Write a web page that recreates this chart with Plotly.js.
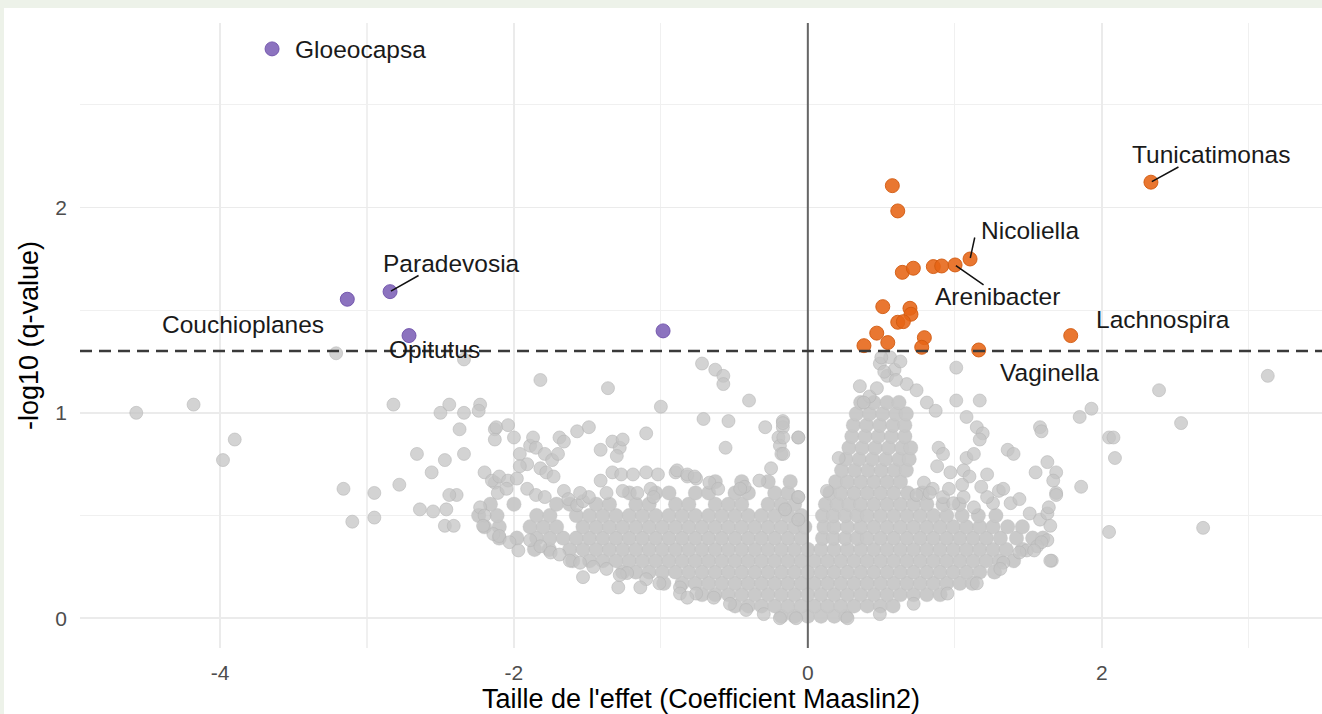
<!DOCTYPE html>
<html>
<head>
<meta charset="utf-8">
<script src="https://cdn.plot.ly/plotly-3.0.1.min.js"></script>
<style>
  html, body { margin: 0; padding: 0; background: #edf2e9; width: 1322px; height: 714px; overflow: hidden; }
  #chart { position: absolute; left: 4px; top: 8px; width: 1318px; height: 706px; background: #ffffff; }
</style>
</head>
<body>
<div id="chart"></div>
<script>
// ---------------- DATA ----------------
const xTickVals = [-4, -2, 0, 2];
const xTickText = ["-4", "-2", "0", "2"];
const yTickVals = [0, 1, 2];
const yTickText = ["0", "1", "2"];
const qThreshold = 0.05;

// significant, negative effect (purple)
const downNames = ["Gloeocapsa", "Paradevosia", "Couchioplanes", "Opitutus", ""];
const downX = [-3.646, -2.843, -3.134, -2.714, -0.985];
const downY = [2.772, 1.590, 1.553, 1.376, 1.399];

// significant, positive effect (orange)
const upNames = ["", "", "", "", "", "", "Arenibacter", "Nicoliella", "", "", "", "", "", "", "", "", "", "", "Vaginella", "Lachnospira", "Tunicatimonas"];
const upX = [0.575, 0.612, 0.643, 0.718, 0.854, 0.911, 1.002, 1.104, 0.510, 0.695, 0.702, 0.612, 0.650, 0.469, 0.544, 0.793, 0.775, 0.382, 1.163, 1.789, 2.335];
const upY = [2.106, 1.983, 1.684, 1.704, 1.712, 1.715, 1.720, 1.749, 1.517, 1.509, 1.480, 1.441, 1.444, 1.388, 1.342, 1.366, 1.319, 1.327, 1.306, 1.376, 2.123];

// non-significant taxa, scattered (gray)
const grayX = [
  -4.57, -4.18, -3.90, -3.98, -3.21, -2.82,
  -2.50, -2.44, -2.34, -2.23, -2.24, -2.37, -2.13, -2.13,
  -2.66, -2.47, -2.34, -2.56, -2.78, -3.16, -2.95, -3.10, -2.95,
  -2.64, -2.55, -2.46, -2.39, -2.44, -2.23, -2.20, -2.21, -2.14, -2.47, -2.41, -2.20, -2.13,
  -2.34, -1.82, -1.36, -0.72, -0.63, -0.575, -0.575, -0.40, -1.00, -0.71, -0.54, -0.29, -0.17, -0.17, -0.20, -0.19, -0.18, -0.065, -0.56, -0.25, -1.10, -0.33, -0.43, -0.46, -0.065, -0.67, -0.61, -0.90, -0.82, -0.76,
  -2.12, -2.04, -2.00, -1.96, -1.89, -1.87, -1.85, -1.69, -1.66, -1.57, -1.49, -1.79, -1.74, -1.70, -1.82, -1.78, -1.73, -1.91, -1.96, -2.15, -2.10, -2.04, -1.98, -2.11, -2.05, -1.91, -1.85, -1.79, -1.66, -1.63, -1.57, -1.53, -1.41, -1.33, -1.28, -1.26, -1.30, -1.41, -1.33, -1.27, -1.19, -1.10, -1.02, -0.89, -0.82, -0.77, -1.37, -1.26, -1.16, -1.07, -1.05, -1.49, -1.55,
  -2.10, -2.03, -1.97, -1.89, -1.82, -1.75, -1.69, -1.62, -1.55, -1.46, -1.37, -1.23, -1.10, -1.01, -0.87, -0.76, -0.64, -0.53, -0.42, -0.30, -0.19, -0.08,
  -1.53, -1.29, -1.28, -1.14, -0.87, -0.82,
  0.354, 0.42, 0.38, 0.49, 0.54, 0.56, 0.59, 0.673, 0.74, 0.81, 0.87, 1.01, 1.01, 1.17, 1.08, 1.15, 1.19, 1.17, 0.89, 0.92, 0.88, 0.97, 1.08, 1.13, 1.06, 1.10, 1.22, 1.36, 1.40, 1.58, 1.59, 1.55, 1.63, 1.69, 1.67, 1.69, 1.85, 1.93, 1.86, 2.05, 2.08, 2.09, 2.05, 2.69, 2.39, 2.54, 3.13,
  1.30, 1.33, 1.26, 1.38, 1.44, 1.51, 1.58, 1.63, 1.65, 1.63, 1.66, 1.56, 1.49, 1.44, 0.79, 0.85, 0.92, 0.99, 1.06, 1.13, 1.22, 1.69, 1.64, 1.59, 1.54, 1.65, 1.33, 1.31, 1.15, 0.95, 0.72, 0.49, 0.27,
  -0.17, -0.167, -0.065, -0.167, -0.065, -0.155, -0.065,
  0.47, 0.52, 0.60, 0.63, 0.50,
  0.13, 0.21, 0.74, 0.83, 0.96, 1.05, 1.18
];
const grayY = [
  1.00, 1.04, 0.87, 0.77, 1.29, 1.04,
  1.00, 1.04, 1.00, 1.04, 1.01, 0.92, 0.92, 0.87,
  0.80, 0.77, 0.80, 0.71, 0.65, 0.63, 0.61, 0.47, 0.49,
  0.53, 0.52, 0.53, 0.60, 0.60, 0.54, 0.50, 0.45, 0.41, 0.45, 0.45, 0.71, 0.66,
  1.26, 1.16, 1.12, 1.24, 1.21, 1.18, 1.14, 1.06, 1.03, 0.97, 0.96, 0.93, 0.96, 0.93, 0.88, 0.84, 0.80, 0.88, 0.83, 0.73, 0.90, 0.67, 0.64, 0.63, 0.59, 0.66, 0.63, 0.71, 0.69, 0.68,
  0.93, 0.94, 0.88, 0.80, 0.84, 0.88, 0.83, 0.88, 0.86, 0.91, 0.93, 0.80, 0.77, 0.80, 0.73, 0.71, 0.69, 0.75, 0.74, 0.67, 0.69, 0.67, 0.68, 0.61, 0.63, 0.63, 0.60, 0.59, 0.62, 0.58, 0.55, 0.57, 0.82, 0.86, 0.83, 0.87, 0.79, 0.67, 0.71, 0.70, 0.70, 0.71, 0.70, 0.72, 0.70, 0.69, 0.61, 0.62, 0.61, 0.63, 0.59, 0.59, 0.61,
  0.40, 0.37, 0.33, 0.38, 0.35, 0.32, 0.31, 0.28, 0.27, 0.25, 0.24, 0.22, 0.19, 0.17, 0.15, 0.12, 0.10, 0.07, 0.04, 0.02, 0.00, 0.00,
  0.20, 0.15, 0.21, 0.15, 0.12, 0.10,
  1.13, 1.08, 1.05, 1.24, 1.18, 1.27, 1.21, 1.14, 1.11, 1.05, 1.01, 1.22, 1.06, 1.06, 0.98, 0.93, 0.90, 0.87, 0.83, 0.80, 0.74, 0.71, 0.78, 0.80, 0.72, 0.69, 0.70, 0.82, 0.80, 0.93, 0.91, 0.71, 0.76, 0.71, 0.67, 0.61, 0.98, 1.02, 0.64, 0.88, 0.88, 0.78, 0.42, 0.44, 1.11, 0.95, 1.18,
  0.62, 0.63, 0.56, 0.56, 0.58, 0.51, 0.48, 0.51, 0.45, 0.38, 0.28, 0.35, 0.33, 0.32, 0.66, 0.63, 0.59, 0.56, 0.59, 0.54, 0.59, 0.60, 0.54, 0.37, 0.33, 0.28, 0.27, 0.24, 0.17, 0.12, 0.07, 0.02, 0.00,
  0.95, 0.88, 0.88, 0.80, 0.59, 0.53, 0.48,
  1.12, 1.20, 1.16, 1.25, 1.27,
  0.62, 0.78, 0.60, 0.61, 0.63, 0.65, 0.64
];

// non-significant taxa, dense core of the cloud, read row by row (gray)
const cloudRowY = [0.01, 0.06, 0.115, 0.17, 0.225, 0.28, 0.335, 0.39, 0.445, 0.50, 0.555, 0.61, 0.665, 0.72, 0.775, 0.83, 0.885, 0.94, 0.995, 1.05];
const cloudRowX = [
  [-0.18, -0.09, 0, 0.09, 0.18, 0.26],
  [-0.495, -0.405, -0.315, -0.225, -0.135, -0.045, 0.045, 0.135, 0.225, 0.315, 0.405, 0.495, 0.58],
  [-0.72, -0.63, -0.54, -0.45, -0.36, -0.27, -0.18, -0.09, 0, 0.09, 0.18, 0.27, 0.36, 0.45, 0.54, 0.63, 0.72, 0.81, 0.9],
  [-0.98, -0.855, -0.765, -0.675, -0.585, -0.495, -0.405, -0.315, -0.225, -0.135, -0.045, 0.045, 0.135, 0.225, 0.315, 0.405, 0.495, 0.585, 0.675, 0.765, 0.855, 0.945, 1.035, 1.12],
  [-1.26, -1.17, -1.08, -0.99, -0.9, -0.81, -0.72, -0.63, -0.54, -0.45, -0.36, -0.27, -0.18, -0.09, 0, 0.09, 0.18, 0.27, 0.36, 0.45, 0.54, 0.63, 0.72, 0.81, 0.9, 0.99, 1.08, 1.17, 1.27],
  [-1.6, -1.485, -1.395, -1.305, -1.215, -1.125, -1.035, -0.945, -0.855, -0.765, -0.675, -0.585, -0.495, -0.405, -0.315, -0.225, -0.135, -0.045, 0.045, 0.135, 0.225, 0.315, 0.405, 0.495, 0.585, 0.675, 0.765, 0.855, 0.945, 1.035, 1.125, 1.215, 1.305, 1.40],
  [-1.86, -1.76, -1.62, -1.53, -1.44, -1.35, -1.26, -1.17, -1.08, -0.99, -0.9, -0.81, -0.72, -0.63, -0.54, -0.45, -0.36, -0.27, -0.18, -0.09, 0, 0.09, 0.18, 0.27, 0.36, 0.45, 0.54, 0.63, 0.72, 0.81, 0.9, 0.99, 1.08, 1.17, 1.26, 1.35, 1.46],
  [-2.1, -1.98, -1.845, -1.755, -1.665, -1.575, -1.485, -1.395, -1.305, -1.215, -1.125, -1.035, -0.945, -0.855, -0.765, -0.675, -0.585, -0.495, -0.405, -0.315, -0.225, -0.135, -0.045, 0.1, 0.175, 0.255, 0.335, 0.405, 0.495, 0.585, 0.675, 0.765, 0.855, 0.945, 1.035, 1.125, 1.215, 1.31, 1.42, 1.53, 1.6],
  [-2.2, -2.1, -1.89, -1.8, -1.71, -1.53, -1.44, -1.35, -1.26, -1.17, -1.08, -0.99, -0.9, -0.81, -0.72, -0.63, -0.54, -0.45, -0.36, -0.27, -0.18, -0.09, -0.02, 0.11, 0.18, 0.27, 0.36, 0.45, 0.54, 0.63, 0.72, 0.81, 0.9, 0.99, 1.08, 1.17, 1.26, 1.36, 1.46],
  [-2.24, -2.115, -1.845, -1.755, -1.575, -1.485, -1.395, -1.305, -1.215, -1.125, -1.035, -0.945, -0.855, -0.765, -0.675, -0.585, -0.495, -0.405, -0.315, -0.225, -0.135, -0.045, 0.1, 0.175, 0.255, 0.335, 0.405, 0.495, 0.585, 0.675, 0.765, 0.855, 0.945, 1.05, 1.16, 1.28],
  [-2.16, -2.0, -1.71, -1.62, -1.44, -1.35, -1.17, -1.08, -0.9, -0.81, -0.63, -0.54, -0.45, -0.27, -0.18, -0.09, 0.12, 0.2, 0.28, 0.36, 0.45, 0.54, 0.63, 0.72, 0.81, 0.92, 1.03],
  [-1.215, -1.035, -0.945, -0.765, -0.675, -0.495, -0.405, -0.225, -0.135, 0.15, 0.225, 0.315, 0.405, 0.495, 0.585, 0.68, 0.78],
  [-0.63, -0.45, -0.27, -0.12, 0.19, 0.27, 0.36, 0.45, 0.54, 0.63],
  [0.23, 0.32, 0.41, 0.50, 0.59, 0.67],
  [0.26, 0.35, 0.44, 0.53, 0.62, 0.69],
  [0.28, 0.37, 0.46, 0.55, 0.64, 0.70],
  [0.30, 0.39, 0.48, 0.57, 0.66],
  [0.31, 0.40, 0.49, 0.58, 0.66],
  [0.33, 0.42, 0.51, 0.60, 0.67],
  [0.36, 0.45, 0.54, 0.62]
];

// ---------------- STYLE / LAYOUT ----------------
const FONT = "Liberation Sans, Arial, Helvetica, sans-serif";
const GRAY = "rgba(196,196,196,0.75)";
const GRAY_LINE = "rgba(180,180,180,0.55)";
const CLOUD = "rgba(199,199,199,0.95)";
const CLOUD_LINE = "rgba(188,188,188,0.25)";
const ORANGE = "rgba(230,100,20,0.88)";
const PURPLE = "rgba(120,90,180,0.85)";
const MSIZE = 13;

// label placement (pixel offsets from the point) and connector segments
const labelPlacement = {
  "Gloeocapsa":    { dx: 88,   dy: 1 },
  "Paradevosia":   { dx: 61,   dy: -28, seg: [30, -17] },
  "Couchioplanes": { dx: -104, dy: 25 },
  "Opitutus":      { dx: 25,   dy: 14 },
  "Tunicatimonas": { dx: 60,   dy: -28, seg: [29, -16] },
  "Nicoliella":    { dx: 60,   dy: -28, seg: [5, -23] },
  "Arenibacter":   { dx: 42,   dy: 32,  seg: [30, 21] },
  "Lachnospira":   { dx: 92,   dy: -16 },
  "Vaginella":     { dx: 71,   dy: 23 }
};

// flatten the dense rows into point lists
const cloudX = [], cloudY = [];
cloudRowX.forEach((row, i) => row.forEach(x => { cloudX.push(x); cloudY.push(cloudRowY[i]); }));

const traces = [
  { type: "scatter", mode: "markers", x: cloudX, y: cloudY, hoverinfo: "skip",
    marker: { size: 14.5, color: CLOUD, line: { color: CLOUD_LINE, width: 1 } } },
  { type: "scatter", mode: "markers", x: grayX, y: grayY, hoverinfo: "skip",
    marker: { size: MSIZE, color: GRAY, line: { color: GRAY_LINE, width: 1 } } },
  { type: "scatter", mode: "markers", x: downX, y: downY, hoverinfo: "skip",
    marker: { size: 14, color: PURPLE, line: { color: "rgba(110,80,170,0.9)", width: 1 } } },
  { type: "scatter", mode: "markers", x: upX, y: upY, hoverinfo: "skip",
    marker: { size: 14, color: ORANGE, line: { color: "rgba(210,90,15,0.9)", width: 1 } } }
];

const annotations = [];
function addLabels(names, xs, ys) {
  names.forEach((n, i) => {
    if (!n) return;
    const p = labelPlacement[n];
    if (p.seg) {
      annotations.push({ x: xs[i], y: ys[i], xref: "x", yref: "y", text: "", showarrow: true,
        arrowhead: 0, arrowwidth: 1.5, arrowcolor: "#111111", ax: p.seg[0], ay: p.seg[1], standoff: 1 });
    }
    annotations.push({ x: xs[i], y: ys[i], xref: "x", yref: "y", text: n, showarrow: false,
      xanchor: "center", yanchor: "middle", xshift: p.dx, yshift: -p.dy,
      font: { family: FONT, size: 24.5, color: "#1a1a1a" } });
  });
}
addLabels(downNames, downX, downY);
addLabels(upNames, upX, upY);

const threshold = -Math.log10(qThreshold);

const layout = {
  width: 1318, height: 706,
  margin: { l: 76, r: 0, t: 15, b: 66, pad: 0 },
  paper_bgcolor: "#ffffff", plot_bgcolor: "#ffffff",
  showlegend: false,
  font: { family: FONT },
  xaxis: {
    range: [-4.953, 3.499], tickmode: "array", tickvals: xTickVals, ticktext: xTickText,
    showgrid: true, gridcolor: "#ebebeb", gridwidth: 1.6, zeroline: false, showline: false,
    ticks: "", ticklabelstandoff: 10,
    tickfont: { family: FONT, size: 21, color: "#4d4d4d" },
    minor: { dtick: 1, tick0: 0, showgrid: true, gridcolor: "#f0f0f0", gridwidth: 1.2 },
    title: { text: "Taille de l'effet (Coefficient Maaslin2)", font: { family: FONT, size: 27, color: "#000000" }, standoff: 4 }
  },
  yaxis: {
    range: [-0.145, 2.898], tickmode: "array", tickvals: yTickVals, ticktext: yTickText,
    showgrid: true, gridcolor: "#ebebeb", gridwidth: 1.6, zeroline: false, showline: false,
    ticks: "", ticklabelstandoff: 12,
    tickfont: { family: FONT, size: 21, color: "#4d4d4d" },
    minor: { dtick: 0.5, tick0: 0, showgrid: true, gridcolor: "#f0f0f0", gridwidth: 1.2 },
    title: { text: "-log10 (q-value)", font: { family: FONT, size: 27, color: "#000000" }, standoff: 8 }
  },
  shapes: [
    { type: "line", xref: "x", yref: "paper", x0: 0, x1: 0, y0: 0, y1: 1, layer: "above",
      line: { color: "#666666", width: 2 } },
    { type: "line", xref: "paper", yref: "y", x0: 0, x1: 1, y0: threshold, y1: threshold, layer: "above",
      line: { color: "#3a3a3a", width: 2.5, dash: "12px,7px" } }
  ],
  annotations: annotations
};

Plotly.newPlot("chart", traces, layout, { displayModeBar: false, staticPlot: true });
</script>
</body>
</html>
